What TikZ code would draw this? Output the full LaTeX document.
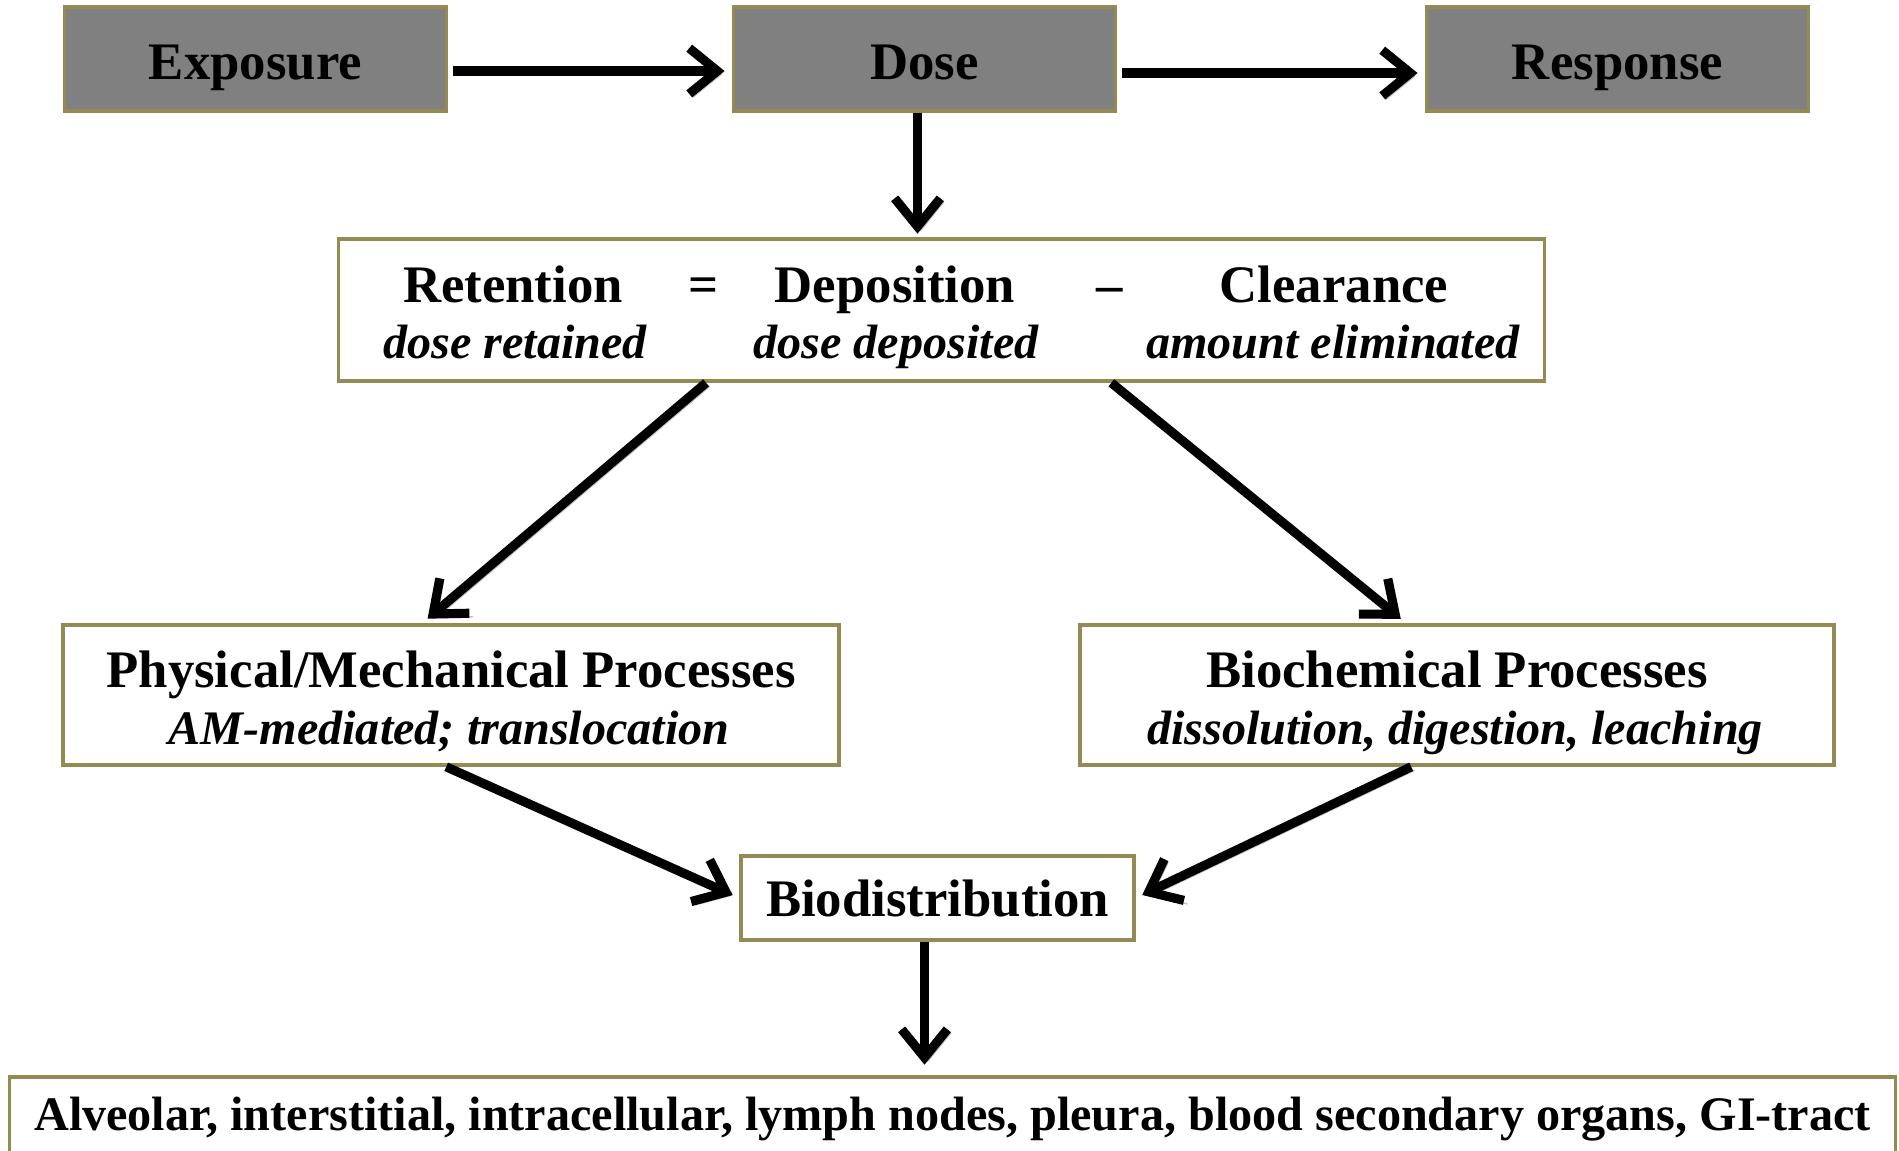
\documentclass[tikz,border=0pt]{standalone}
\usepackage{fontspec}
\setmainfont{Liberation Serif}
\usetikzlibrary{arrows.meta,positioning}
\definecolor{boxgray}{HTML}{808080}
\definecolor{boxline}{HTML}{948A54}
\tikzset{
	hdtext/.style={font=\fontsize{15}{18}\selectfont\bfseries, inner sep=0pt},
	ittext/.style={font=\fontsize{13.7}{16}\selectfont\bfseries\itshape, inner sep=0pt},
	topbox/.style={draw=boxline, fill=boxgray, line width=1pt, hdtext, text height=11.4pt, text depth=0pt, minimum width=3.82cm, minimum height=1.04cm},
	framebox/.style={draw=boxline, fill=white, line width=1pt, inner sep=0pt},
	flow/.style={line width=2.6pt, -{Straight Barb[length=8pt,width=13pt]}, shorten >=2pt,
		preaction={draw=black!25, transform canvas={shift={(1pt,-1pt)}}}},
}

\begin{document}
\begin{tikzpicture}[x=0.01cm, y=-0.01cm]
	\clip (0,0) rectangle (1899,1150);
	\node[topbox] (expo) at (255.5,59) {Exposure};
	\node[topbox] (dose) at (924.5,59) {Dose};
	\node[topbox] (resp) at (1617.5,59) {Response};
	\node[framebox, minimum width=12.05cm, minimum height=1.42cm] (ret) at (941.5,310) {};
	\node[hdtext, anchor=base] (reten) at (513,302) {Retention};
	\node[hdtext, anchor=base] (eq) at (704,302) {=};
	\node[hdtext, anchor=base] (depo) at (895,302) {Deposition};
	\node[hdtext, anchor=base] (minus) at (1110,302) {--};
	\node[hdtext, anchor=base] (clear) at (1334,302) {Clearance};
	\node[ittext, anchor=base] (retsub) at (515,358) {dose retained};
	\node[ittext, anchor=base] (deposub) at (896,358) {dose deposited};
	\node[ittext, anchor=base] (clearsub) at (1333,358) {amount eliminated};
	\node[framebox, minimum width=7.76cm, minimum height=1.40cm] (phys) at (451,695) {};
	\node[hdtext, anchor=base] (physhd) at (451,687) {Physical/Mechanical Processes};
	\node[ittext, anchor=base] (physsub) at (449,744) {AM-mediated; translocation};
	\node[framebox, minimum width=7.54cm, minimum height=1.40cm] (bioc) at (1457,695) {};
	\node[hdtext, anchor=base] (biochd) at (1457,687) {Biochemical Processes};
	\node[ittext, anchor=base] (biocsub) at (1455,744) {dissolution, digestion, leaching};
	\node[framebox, hdtext, minimum width=3.93cm, minimum height=0.84cm] (biod) at (937.5,898) {Biodistribution};
	\node[framebox, hdtext, font=\fontsize{13.7}{16}\selectfont\bfseries, minimum width=18.85cm, minimum height=0.84cm] (alv) at (952.5,1119) {Alveolar, interstitial, intracellular, lymph nodes, pleura, blood secondary organs, GI-tract};
	% arrows
	\draw[flow, shorten <=1.4pt] ([yshift=-0.12cm]expo.east) -- ([yshift=-0.12cm]dose.west);
	\draw[flow, shorten <=1.4pt] ([yshift=-0.14cm]dose.east) -- ([yshift=-0.14cm]resp.west);
	\draw[flow, shorten >=1pt] ([xshift=-0.07cm]dose.south) -- ([xshift=-0.07cm]dose.south |- ret.north);
	\draw[flow] ([xshift=3.69cm]ret.south west) -- ([xshift=3.61cm]phys.north west);
	\draw[flow] ([xshift=7.74cm]ret.south west) -- ([xshift=3.28cm]bioc.north west);
	\draw[flow] ([xshift=3.85cm]phys.south west) -- (biod.west);
	\draw[flow] ([xshift=3.33cm]bioc.south west) -- (biod.east);
	\draw[flow, shorten >=3pt] ([xshift=-0.13cm]biod.south) -- ([xshift=-0.13cm]biod.south |- alv.north);
\end{tikzpicture}
\end{document}
